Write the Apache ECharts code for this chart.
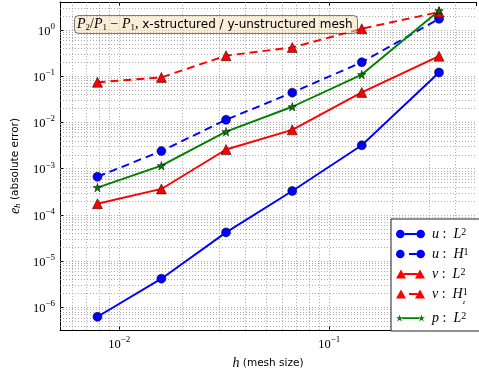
<!DOCTYPE html>
<html>
<head>
<meta charset="utf-8">
<script src="https://cdn.jsdelivr.net/npm/echarts@6/dist/echarts.min.js"></script>
<style>
  html, body { margin: 0; padding: 0; background: #fff; }
  #chart { width: 479px; height: 375px; }
</style>
</head>
<body>
<div id="chart"></div>
<script>
// Mesh sizes h = 1/(n-1)
const meshSize = [1 / 127, 1 / 63, 1 / 31, 1 / 15, 1 / 7, 1 / 3];

// Absolute errors per field / norm
const uL2 = [6.3e-7, 4.2e-6, 4.2e-5, 3.3e-4, 3.2e-3, 0.12];
const uH1 = [6.7e-4, 2.4e-3, 1.14e-2, 4.4e-2, 0.20, 1.73];
const vL2 = [1.75e-4, 3.65e-4, 2.6e-3, 6.9e-3, 4.45e-2, 0.27];
const vH1 = [0.0736, 0.094, 0.277, 0.417, 1.06, 2.43];
const pL2 = [3.9e-4, 1.16e-3, 6.3e-3, 2.18e-2, 0.108, 2.59];

// Axis ranges and decade ticks
const xRange = [0.00522, 0.5];
const yRange = [3.25e-7, 4.0];
const xDecades = [0.001, 0.01, 0.1];
const yDecades = [1e-7, 1e-6, 1e-5, 1e-4, 1e-3, 1e-2, 1e-1, 1];
const minorSteps = [1, 2, 3, 4, 5, 6, 7, 8, 9];

function gridValues(decades, range) {
  const out = [];
  decades.forEach(d => minorSteps.forEach(k => {
    const v = k * d;
    if (v > range[0] * 1.0001 && v < range[1] * 0.9999) out.push(v);
  }));
  return out;
}

const STAR = 'path://M50,0 L61.23,34.55 L97.55,34.55 L68.16,55.9 L79.39,90.45 L50,69.1 L20.61,90.45 L31.84,55.9 L2.45,34.55 L38.77,34.55 Z';

// Legend handles: two markers joined by a solid or dashed stroke
const ICON_CIRCLE_SOLID = 'path://M0,4.5 A4.3,4.3 0 1 1 8.6,4.5 A4.3,4.3 0 1 1 0,4.5 Z M20.4,4.5 A4.3,4.3 0 1 1 29,4.5 A4.3,4.3 0 1 1 20.4,4.5 Z M8.6,3.5 L20.4,3.5 L20.4,5.5 L8.6,5.5 Z';
const ICON_CIRCLE_DASH = 'path://M0,4.5 A4.3,4.3 0 1 1 8.6,4.5 A4.3,4.3 0 1 1 0,4.5 Z M20.4,4.5 A4.3,4.3 0 1 1 29,4.5 A4.3,4.3 0 1 1 20.4,4.5 Z M13,3.5 L20.4,3.5 L20.4,5.5 L13,5.5 Z';
const ICON_TRI_SOLID = 'path://M0,9 L5,0 L10,9 Z M19,9 L24,0 L29,9 Z M7.5,3.5 L21.5,3.5 L21.5,5.5 L7.5,5.5 Z';
const ICON_TRI_DASH = 'path://M0,9 L5,0 L10,9 Z M19,9 L24,0 L29,9 Z M13,3.5 L21.5,3.5 L21.5,5.5 L13,5.5 Z';
const ICON_STAR = 'path://M3.5,0.3 L4.4,2.9 L7.1,2.9 L4.9,4.5 L5.8,7.1 L3.5,5.5 L1.2,7.1 L2.1,4.5 L-0.1,2.9 L2.6,2.9 Z M25.5,0.3 L26.4,2.9 L29.1,2.9 L26.9,4.5 L27.8,7.1 L25.5,5.5 L23.2,7.1 L24.1,4.5 L21.9,2.9 L24.6,2.9 Z M6,3 L23,3 L23,4.8 L6,4.8 Z';

const serif = "'Liberation Serif', 'DejaVu Serif', serif";
const sans = "'DejaVu Sans', sans-serif";

const mathRich = {
  m: { fontFamily: serif, fontStyle: 'italic', fontWeight: 'normal', fontSize: 14, color: '#000', lineHeight: 15, verticalAlign: 'middle' },
  n: { fontFamily: serif, fontWeight: 'normal', fontSize: 14, color: '#000', lineHeight: 15, verticalAlign: 'middle' },
  sub: { fontFamily: serif, fontWeight: 'normal', fontSize: 9, color: '#000', lineHeight: 9, verticalAlign: 'bottom' },
  t: { fontFamily: sans, fontWeight: 'normal', fontSize: 12, color: '#000', lineHeight: 15, verticalAlign: 'middle' }
};

const tickRich = {
  b: { fontFamily: serif, fontSize: 12.5, color: '#000', lineHeight: 16, verticalAlign: 'bottom' },
  s: { fontFamily: serif, fontSize: 9, color: '#000', lineHeight: 16, verticalAlign: 'top' }
};

function powerLabel(v) {
  const lg = Math.log10(v);
  const e = Math.round(lg);
  if (Math.abs(lg - e) > 1e-6) return '';
  return '{b|10}{s|' + (e < 0 ? '\u2212' : '') + Math.abs(e) + '}';
}

const legendText = {
  'u : L2': '{f|u}{n| :  }{i|L}{p|2}',
  'u : H1': '{f|u}{n| :  }{i|H}{p|1}',
  'v : L2': '{f|v}{n| :  }{i|L}{p|2}',
  'v : H1z': '{f|v}{n| :  }{i|H}{p|1}{q|z}',
  'p : L2': '{f|p}{n| :  }{i|L}{p|2}'
};

const markerEdge = { borderColor: '#000', borderWidth: 0.5 };

function errSeries(name, values, color, symbol, size, dashed) {
  return {
    name: name,
    type: 'line',
    data: meshSize.map((h, i) => [h, values[i]]),
    symbol: symbol,
    symbolSize: size,
    showAllSymbol: true,
    z: 3,
    lineStyle: { color: color, width: 1.9, type: dashed ? [8, 5] : 'solid' },
    itemStyle: Object.assign({ color: color, opacity: 1 }, markerEdge),
    emphasis: { disabled: true },
    animation: false
  };
}

const gridLine = { color: '#959595', width: 0.8, type: [1, 2] };

const chart = echarts.init(document.getElementById('chart'), null, { renderer: 'canvas' });

chart.setOption({
  animation: false,
  backgroundColor: '#fff',
  title: {
    text: '{m|P}{sub|2}{n|/}{m|P}{sub|1}{n| \u2212 }{m|P}{sub|1}{n|,}{t| x-structured / y-unstructured mesh}',
    left: 74,
    top: 15,
    padding: [2, 5, 2, 3],
    backgroundColor: 'rgba(245,222,179,0.5)',
    borderColor: 'rgba(0,0,0,0.5)',
    borderWidth: 1,
    borderRadius: 4,
    textStyle: { fontWeight: 'normal', rich: mathRich }
  },
  legend: {
    orient: 'vertical',
    left: 391,
    top: 219,
    padding: [8, 40, 6, 5],
    itemWidth: 29,
    itemHeight: 9,
    itemGap: 6,
    backgroundColor: '#fff',
    borderColor: '#222',
    borderWidth: 1,
    selectedMode: false,
    itemStyle: { borderWidth: 0 },
    data: [
      { name: 'u : L2', icon: ICON_CIRCLE_SOLID },
      { name: 'u : H1', icon: ICON_CIRCLE_DASH },
      { name: 'v : L2', icon: ICON_TRI_SOLID },
      { name: 'v : H1z', icon: ICON_TRI_DASH },
      { name: 'p : L2', icon: ICON_STAR }
    ],
    formatter: name => legendText[name],
    textStyle: {
      rich: {
        f: { fontFamily: serif, fontStyle: 'italic', fontSize: 14, color: '#000', lineHeight: 14, verticalAlign: 'middle', padding: [0, 0, 0, 2] },
        i: { fontFamily: serif, fontStyle: 'italic', fontSize: 14, color: '#000', lineHeight: 14, verticalAlign: 'middle' },
        n: { fontFamily: serif, fontSize: 14, color: '#000', lineHeight: 14, verticalAlign: 'middle' },
        p: { fontFamily: serif, fontSize: 10, color: '#000', lineHeight: 10, verticalAlign: 'top' },
        q: { fontFamily: serif, fontStyle: 'italic', fontSize: 6, color: '#000', lineHeight: 6, verticalAlign: 'bottom', padding: [0, 0, -4, -5] }
      }
    }
  },
  grid: { left: 55, top: 2, width: 432.6, height: 336, containLabel: false },
  xAxis: [
    {
      type: 'log',
      logBase: 10,
      min: xRange[0],
      max: xRange[1],
      splitNumber: 10,
      name: '{i|h}{t| (mesh size)}',
      nameLocation: 'middle',
      nameGap: 17,
      nameTextStyle: {
        rich: {
          i: { fontFamily: serif, fontStyle: 'italic', fontSize: 14, color: '#000' },
          t: { fontFamily: sans, fontSize: 10.5, color: '#000' }
        }
      },
      axisLine: { show: true, onZero: false, lineStyle: { color: '#000', width: 1 } },
      axisTick: { show: true, inside: true, length: 4, lineStyle: { color: '#000' } },
      axisLabel: { margin: 5, formatter: powerLabel, rich: tickRich, showMinLabel: true, showMaxLabel: true, hideOverlap: false },
      splitLine: { show: false },
      minorTick: { show: false },
      minorSplitLine: { show: false }
    },
    {
      type: 'log',
      logBase: 10,
      position: 'top',
      min: xRange[0],
      max: xRange[1],
      splitNumber: 10,
      axisLine: { show: true, onZero: false, lineStyle: { color: '#000', width: 1 } },
      axisTick: { show: true, inside: true, length: 4, lineStyle: { color: '#000' } },
      axisLabel: { show: false },
      splitLine: { show: false }
    }
  ],
  yAxis: {
    type: 'log',
    logBase: 10,
    min: yRange[0],
    max: yRange[1],
    splitNumber: 10,
    name: '{i|e}{sub|h}{t| (absolute error)}',
    nameLocation: 'middle',
    nameGap: 33,
    nameRotate: 90,
    nameTextStyle: {
      rich: {
        i: { fontFamily: serif, fontStyle: 'italic', fontSize: 14, color: '#000', lineHeight: 14, verticalAlign: 'middle' },
        sub: { fontFamily: serif, fontStyle: 'italic', fontSize: 9, color: '#000', lineHeight: 9, verticalAlign: 'bottom' },
        t: { fontFamily: sans, fontSize: 10.5, color: '#000', lineHeight: 14, verticalAlign: 'middle' }
      }
    },
    axisLine: { show: true, onZero: false, lineStyle: { color: '#000', width: 1 } },
    axisTick: { show: true, inside: true, length: 4, lineStyle: { color: '#000' } },
    axisLabel: { margin: 5, formatter: powerLabel, rich: tickRich, showMinLabel: true, showMaxLabel: true, hideOverlap: false },
    splitLine: { show: false }
  },
  series: [
    {
      name: 'grid',
      type: 'line',
      data: [],
      silent: true,
      z: 1,
      markLine: {
        silent: true,
        symbol: ['none', 'none'],
        precision: 12,
        z: 1,
        animation: false,
        label: { show: false },
        emphasis: { disabled: true },
        lineStyle: gridLine,
        data: gridValues(xDecades, xRange).map(v => ({ xAxis: v }))
          .concat(gridValues(yDecades, yRange).map(v => ({ yAxis: v })))
      }
    },
    errSeries('u : L2', uL2, '#0000ff', 'circle', 9, false),
    errSeries('u : H1', uH1, '#0000ff', 'circle', 9, true),
    errSeries('v : L2', vL2, '#ff0000', 'triangle', 10, false),
    errSeries('v : H1z', vH1, '#ff0000', 'triangle', 10, true),
    errSeries('p : L2', pL2, '#008000', STAR, 8.5, false)
  ]
});
</script>
</body>
</html>
